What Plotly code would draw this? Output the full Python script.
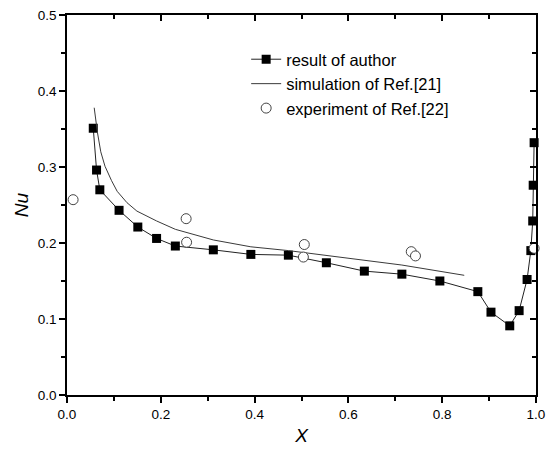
import plotly.graph_objects as go

author_x = [0.056, 0.063, 0.070, 0.111, 0.151, 0.191, 0.231, 0.312, 0.392, 0.472, 0.553, 0.634,
            0.714, 0.795, 0.876, 0.904, 0.944, 0.964, 0.981, 0.989, 0.993, 0.994, 0.996]
author_y = [0.351, 0.296, 0.270, 0.243, 0.221, 0.206, 0.196, 0.191, 0.185, 0.184, 0.174, 0.163,
            0.159, 0.150, 0.136, 0.109, 0.091, 0.111, 0.152, 0.190, 0.229, 0.276, 0.332]

sim_x = [0.058, 0.065, 0.072, 0.081, 0.095, 0.107, 0.128, 0.149, 0.191, 0.231, 0.312, 0.392,
         0.472, 0.55, 0.63, 0.714, 0.847]
sim_y = [0.378, 0.345, 0.320, 0.301, 0.282, 0.268, 0.253, 0.242, 0.229, 0.218, 0.204, 0.195,
         0.190, 0.184, 0.177, 0.171, 0.1575]

exp_x = [0.013, 0.254, 0.255, 0.506, 0.504, 0.734, 0.743, 0.996]
exp_y = [0.257, 0.232, 0.201, 0.198, 0.1815, 0.1886, 0.183, 0.193]

x_ticks = [0.0, 0.2, 0.4, 0.6, 0.8, 1.0]
y_ticks = [0.0, 0.1, 0.2, 0.3, 0.4, 0.5]

FONT = "Arial, Liberation Sans, sans-serif"

fig = go.Figure()
fig.add_trace(go.Scatter(
    x=author_x, y=author_y, mode="lines+markers", name="result of author",
    line=dict(color="#222222", width=1),
    marker=dict(symbol="square", size=9, color="black"),
    cliponaxis=False))
fig.add_trace(go.Scatter(
    x=sim_x, y=sim_y, mode="lines", name="simulation of Ref.[21]",
    line=dict(color="#3a3a3a", width=1), cliponaxis=False))
fig.add_trace(go.Scatter(
    x=exp_x, y=exp_y, mode="markers", name="experiment of Ref.[22]",
    marker=dict(symbol="circle", size=10, color="white", line=dict(color="#444444", width=1)),
    cliponaxis=False))
# helper trace so the mirrored (top/right) axes exist
fig.add_trace(go.Scatter(x=[None], y=[None], xaxis="x2", yaxis="y2",
                         showlegend=False, hoverinfo="skip"))

axis_common = dict(showline=True, linecolor="black", linewidth=1.5, showgrid=False,
                   zeroline=False, tickcolor="black", tickwidth=1.5, ticklen=6,
                   automargin=False)

fig.update_layout(
    width=547, height=450,
    margin=dict(l=67, r=11, t=15, b=55),
    paper_bgcolor="white", plot_bgcolor="white",
    font=dict(family=FONT, color="black"),
    showlegend=True,
    legend=dict(x=0.382, y=0.929, xanchor="left", yanchor="top",
                bgcolor="rgba(0,0,0,0)", font=dict(size=16.5, family=FONT),
                tracegroupgap=0, itemwidth=30),
    xaxis=dict(range=[0, 1], tickvals=x_ticks, ticktext=[f"{v:.1f}" for v in x_ticks],
               ticks="outside", tickfont=dict(size=13.5),
               minor=dict(dtick=0.1, ticks="outside", ticklen=4, tickcolor="black", tickwidth=1.5),
               title=dict(text="<i>X</i>", font=dict(size=19), standoff=8),
               **axis_common),
    yaxis=dict(range=[0, 0.5], tickvals=y_ticks, ticktext=[f"{v:.1f}" for v in y_ticks],
               ticks="outside", tickfont=dict(size=13.5),
               minor=dict(dtick=0.05, ticks="outside", ticklen=4, tickcolor="black", tickwidth=1.5),
               title=dict(text="<i>Nu</i>", font=dict(size=19), standoff=4),
               **axis_common),
    xaxis2=dict(range=[0, 1], overlaying="x", side="top", anchor="y2",
                tickvals=x_ticks, showticklabels=False, ticks="inside",
                minor=dict(dtick=0.1, ticks="inside", ticklen=4, tickcolor="black", tickwidth=1.5),
                **axis_common),
    yaxis2=dict(range=[0, 0.5], overlaying="y", side="right", anchor="x2",
                tickvals=y_ticks, showticklabels=False, ticks="inside",
                minor=dict(dtick=0.05, ticks="inside", ticklen=4, tickcolor="black", tickwidth=1.5),
                **axis_common),
)

fig.write_html("out.html")
